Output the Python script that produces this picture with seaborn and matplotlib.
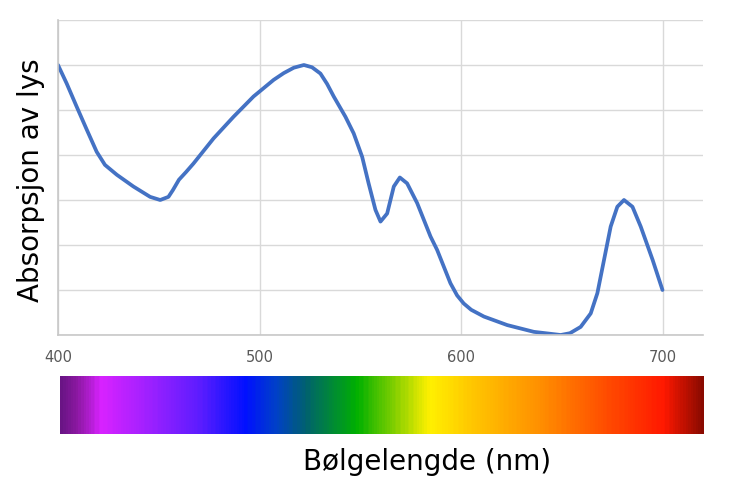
import numpy as np
import pandas as pd
import seaborn as sns
import matplotlib.pyplot as plt
from matplotlib.colors import LinearSegmentedColormap

# absorption curve (nm, relative absorption)
wavelength = [400, 404.3, 409.3, 414.3, 419.2, 423.3, 429.2, 437.4, 445.7, 450.7,
              454.8, 457, 460, 463.5, 467.2, 477.2, 487.1, 497, 507, 512,
              517, 522, 526, 530.2, 533.5, 536.8, 542.6, 546.7, 550.9, 554.1,
              557.5, 560, 563.3, 566.6, 569.6, 573.2, 578.2, 584.8, 588.1, 594.7,
              598, 601.3, 605, 611.3, 622.9, 636.1, 649.4, 654, 659.3, 664.3,
              667.6, 670.9, 674.2, 677.5, 680.8, 685, 689.1, 695, 699.9]
absorption = [6.0, 5.59, 5.07, 4.56, 4.07, 3.78, 3.56, 3.30, 3.07, 3.0,
              3.07, 3.22, 3.45, 3.62, 3.81, 4.37, 4.85, 5.30, 5.67, 5.82,
              5.94, 6.0, 5.95, 5.81, 5.58, 5.30, 4.85, 4.48, 3.96, 3.37,
              2.78, 2.52, 2.70, 3.30, 3.50, 3.37, 2.93, 2.19, 1.89, 1.15,
              0.88, 0.70, 0.56, 0.41, 0.22, 0.07, 0.0, 0.04, 0.18, 0.48,
              0.93, 1.67, 2.41, 2.85, 3.0, 2.85, 2.41, 1.67, 1.0]

x_ticks = [400, 500, 600, 700]

# colours of the spectrum bar (position along bar, colour)
spectrum_pos = [0.0, 0.023, 0.062, 0.14, 0.217, 0.287, 0.334, 0.38, 0.461,
                0.536, 0.575, 0.637, 0.745, 0.854, 0.94, 1.0]
spectrum_col = ["#6a1485", "#8a18a0", "#d822ff", "#9a20ff", "#5a1cff", "#0010ff",
                "#0040c8", "#006070", "#00b000", "#a8d800", "#fff000", "#ffc800",
                "#ff9000", "#ff4a00", "#ff1800", "#8a0a00"]

df = pd.DataFrame({"nm": wavelength, "abs": absorption})

sns.set_theme(style="whitegrid")
plt.rcParams["font.family"] = ["DejaVu Sans"]

fig = plt.figure(figsize=(7.29, 4.92), dpi=100)
ax = fig.add_axes([58 / 729, 1 - 335 / 492, 645 / 729, 315 / 492])

sns.lineplot(data=df, x="nm", y="abs", ax=ax, color="#4472c4", linewidth=2.7,
             solid_capstyle="round", solid_joinstyle="round")

ax.set_xlim(400, 720)
ax.set_ylim(0, 7)
ax.set_xticks(x_ticks)
ax.set_xticklabels([str(t) for t in x_ticks])
ax.set_yticks(range(0, 8))
ax.set_yticklabels([])
ax.set_xlabel("")
ax.set_ylabel("")
ax.tick_params(axis="x", length=0, pad=11, labelsize=10.5, labelcolor="#595959")
ax.tick_params(axis="y", length=0)
ax.grid(True, color="#d9d9d9", linewidth=1)
ax.set_facecolor("white")
for side in ["top", "right"]:
    ax.spines[side].set_visible(False)
for side in ["left", "bottom"]:
    ax.spines[side].set_color("#c8c8c8")
    ax.spines[side].set_linewidth(1.2)

# spectrum bar
cmap = LinearSegmentedColormap.from_list("spectrum", list(zip(spectrum_pos, spectrum_col)))
sax = fig.add_axes([60 / 729, 1 - 434 / 492, 644 / 729, 58 / 492])
bar = pd.DataFrame([np.linspace(0, 1, 400)])
sns.heatmap(bar, ax=sax, cmap=cmap, cbar=False, vmin=0, vmax=1,
            xticklabels=False, yticklabels=False)
sax.set_xlabel("")
sax.set_ylabel("")

fig.text(31 / 729, 1 - 180 / 492, "Absorpsjon av lys", rotation=90,
         ha="center", va="center", fontsize=20, color="black")
fig.text(427 / 729, 1 - 462 / 492, "Bølgelengde (nm)",
         ha="center", va="center", fontsize=20, color="black")

fig.savefig("out.png", dpi=100, facecolor="white")
